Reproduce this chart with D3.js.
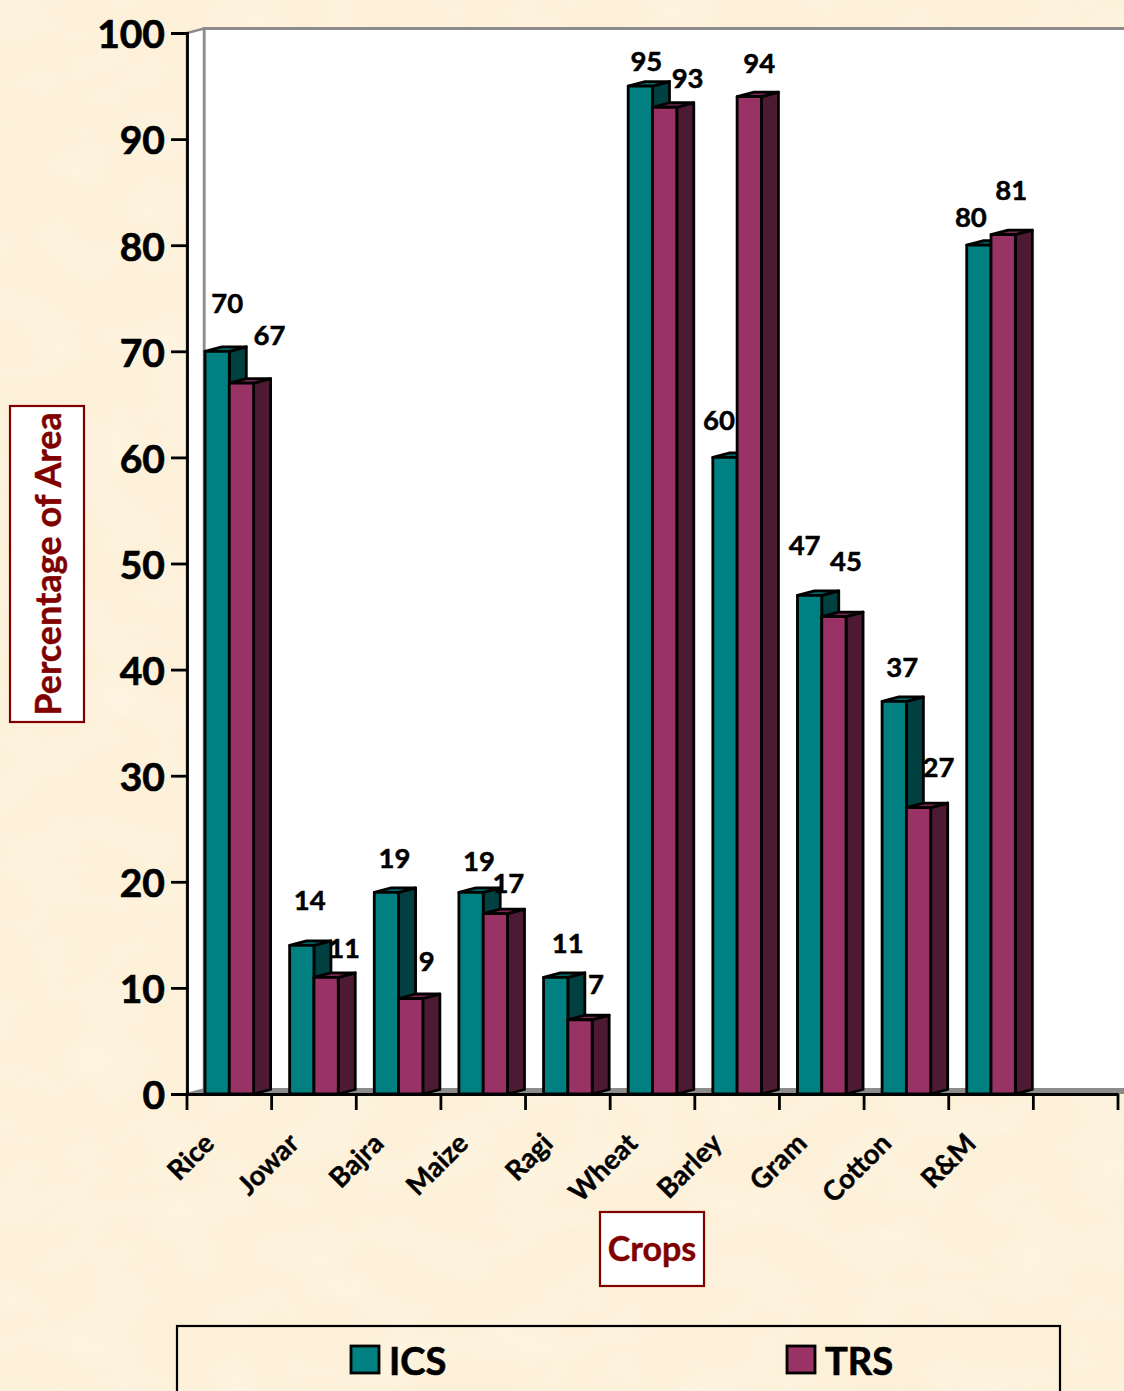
<!DOCTYPE html>
<html>
<head>
<meta charset="utf-8">
<script src="https://cdn.jsdelivr.net/npm/d3@7"></script>
<style>
  html, body { margin: 0; padding: 0; background: #fdf1d9; }
  svg { display: block; }
  text { font-family: Lato, "Open Sans", sans-serif; font-weight: 700; }
</style>
</head>
<body>
<div id="chart"></div>
<script>
const width = 1124;
const height = 1391;

// Chart data
const crops = ["Rice", "Jowar", "Bajra", "Maize", "Ragi", "Wheat", "Barley", "Gram", "Cotton", "R&M"];
const icsValues = [70, 14, 19, 19, 11, 95, 60, 47, 37, 80];
const trsValues = [67, 11, 9, 17, 7, 93, 94, 45, 27, 81];
const yTicks = [0, 10, 20, 30, 40, 50, 60, 70, 80, 90, 100];

// The labels were hand placed in the original, so they get their own nudges
const icsNudge = [[10, -48], [8, -45], [8, -34], [8, -31], [12, -34], [6, -25], [-6, -37], [-5, -50], [8, -34], [-8, -28]];
const trsNudge = [[28, -48], [18, -29], [16, -37], [13, -30], [16, -35], [23, -29], [10, -33], [12, -55], [20, -40], [8, -44]];

const left = 187, right = 1118, top0 = 33, bottom = 1094;
const depthX = 17, depthY = 4.5;
const barW = 24.3, barStart = 18;

const teal = { front: "#008080", top: "#006666", side: "#004040" };
const plum = { front: "#993366", top: "#7a2952", side: "#4d1a33" };
const wallGrey = "#8c8c8c";

// one empty slot after R&M, the axis runs on past the last bars
const x = d3.scaleBand().domain([...crops, ""]).range([left, right]);
const y = d3.scaleLinear().domain([0, 100]).range([bottom, top0]);

const svg = d3.select("#chart").append("svg")
  .attr("width", width)
  .attr("height", height);

// Paper texture behind everything
const filter = svg.append("defs").append("filter")
  .attr("id", "paper")
  .attr("x", 0).attr("y", 0).attr("width", "100%").attr("height", "100%");
filter.append("feTurbulence")
  .attr("type", "fractalNoise")
  .attr("baseFrequency", "0.014 0.022")
  .attr("numOctaves", 3)
  .attr("seed", 4);
filter.append("feColorMatrix")
  .attr("type", "matrix")
  .attr("values", "0 0 0 0 1  0 0 0 0 0.98  0 0 0 0 0.9  0.6 0 0 0 -0.2");

svg.append("rect").attr("width", width).attr("height", height).attr("fill", "#fdf0d8");
svg.append("rect").attr("width", width).attr("height", height).attr("filter", "url(#paper)");

// Walls and floor
const wallX = left + depthX;
const wallTop = top0 - depthY;
const wallBottom = bottom - depthY;

svg.append("rect")
  .attr("x", wallX).attr("y", wallTop)
  .attr("width", width - wallX + 4).attr("height", wallBottom - wallTop)
  .attr("fill", "#fff")
  .attr("stroke", wallGrey)
  .attr("stroke-width", 3);

svg.append("path")
  .attr("d", `M${left},${top0}L${wallX},${wallTop}V${wallBottom}L${left},${bottom}Z`)
  .attr("fill", "#fff")
  .attr("stroke", wallGrey)
  .attr("stroke-width", 2.5);

svg.append("path")
  .attr("d", `M${left},${bottom}L${wallX},${wallBottom}H${width + 2}V${bottom}Z`)
  .attr("fill", wallGrey)
  .attr("stroke", "none");

// Bars
function drawBars(values, colors, offset) {
  const g = svg.append("g")
    .attr("stroke", "#000")
    .attr("stroke-width", 2.8)
    .attr("stroke-linejoin", "round");

  const bar = g.selectAll("g")
    .data(values)
    .join("g")
    .attr("transform", (d, i) => `translate(${x(crops[i]) + offset},0)`);

  bar.append("path")
    .attr("fill", colors.side)
    .attr("d", d => `M${barW},${y(d)}l${depthX},${-depthY}V${bottom - depthY}L${barW},${bottom}Z`);

  bar.append("path")
    .attr("fill", colors.top)
    .attr("d", d => `M0,${y(d)}l${depthX},${-depthY}h${barW}l${-depthX},${depthY}Z`);

  bar.append("rect")
    .attr("y", d => y(d))
    .attr("width", barW)
    .attr("height", d => bottom - y(d))
    .attr("fill", colors.front);
}

drawBars(icsValues, teal, barStart);
drawBars(trsValues, plum, barStart + barW);

// Value labels
function drawLabels(values, nudges, offset) {
  svg.append("g").selectAll("text")
    .data(values)
    .join("text")
    .attr("x", (d, i) => x(crops[i]) + offset + barW / 2 + nudges[i][0])
    .attr("y", (d, i) => y(d) + nudges[i][1])
    .attr("dy", "0.35em")
    .attr("text-anchor", "middle")
    .attr("font-size", 27.5)
    .attr("fill", "#000")
    .attr("stroke", "#000")
    .attr("stroke-width", 0.5)
    .text(d => d);
}

drawLabels(icsValues, icsNudge, barStart);
drawLabels(trsValues, trsNudge, barStart + barW);

// Axes
const yAxis = svg.append("g")
  .attr("transform", `translate(${left},0)`)
  .call(d3.axisLeft(y).tickValues(yTicks).tickSize(16).tickPadding(6));
yAxis.selectAll("text")
  .attr("font-size", 39)
  .attr("fill", "#000")
  .attr("stroke", "#000")
  .attr("stroke-width", 0.7)
  .attr("dy", "0.38em")
  .style("font-family", null);

const xAxis = svg.append("g")
  .attr("transform", `translate(0,${bottom})`)
  .call(d3.axisBottom(x).tickValues([]).tickSize(0));

// band edges, not band centres, carry the ticks here
xAxis.selectAll(".edge")
  .data([...x.domain().map(c => x(c)), right])
  .join("line")
  .attr("class", "edge")
  .attr("x1", d => d).attr("x2", d => d)
  .attr("y1", 0).attr("y2", 16)
  .attr("stroke", "#000");

svg.selectAll(".domain, .tick line, .edge").attr("stroke-width", 2.8).attr("stroke", "#000");

svg.append("g").selectAll("text")
  .data(crops)
  .join("text")
  .attr("text-anchor", "end")
  .attr("font-size", 27.5)
  .attr("fill", "#000")
  .attr("stroke", "#000")
  .attr("stroke-width", 0.4)
  .attr("transform", d => `translate(${x(d) + 29},${bottom + 51}) rotate(-45)`)
  .text(d => d);

// Axis titles in their boxes
const titleRed = "#800000";

svg.append("rect")
  .attr("x", 10).attr("y", 406).attr("width", 74).attr("height", 316)
  .attr("fill", "#fff").attr("stroke", titleRed).attr("stroke-width", 2.2);
svg.append("text")
  .attr("transform", "translate(48,564) rotate(-90)")
  .attr("text-anchor", "middle")
  .attr("dy", "0.35em")
  .attr("font-size", 36)
  .attr("fill", titleRed)
  .attr("stroke", titleRed)
  .attr("stroke-width", 0.4)
  .text("Percentage of Area");

svg.append("rect")
  .attr("x", 600).attr("y", 1212).attr("width", 104).attr("height", 74)
  .attr("fill", "#fff").attr("stroke", titleRed).attr("stroke-width", 2.2);
svg.append("text")
  .attr("x", 652).attr("y", 1249)
  .attr("text-anchor", "middle")
  .attr("dy", "0.35em")
  .attr("font-size", 34)
  .attr("fill", titleRed)
  .attr("stroke", titleRed)
  .attr("stroke-width", 0.4)
  .text("Crops");

// Legend, cut off by the bottom of the picture
svg.append("rect")
  .attr("x", 177).attr("y", 1326).attr("width", 883).attr("height", 100)
  .attr("fill", "none").attr("stroke", "#000").attr("stroke-width", 2.2);

const legendItems = [
  { name: "ICS", color: teal.front, at: 351 },
  { name: "TRS", color: plum.front, at: 787 }
];

const legend = svg.selectAll(".legend")
  .data(legendItems)
  .join("g")
  .attr("class", "legend")
  .attr("transform", d => `translate(${d.at},1346)`);

legend.append("rect")
  .attr("width", 28).attr("height", 27)
  .attr("fill", d => d.color)
  .attr("stroke", "#000")
  .attr("stroke-width", 2.8);

legend.append("text")
  .attr("x", 38).attr("y", 16)
  .attr("dy", "0.35em")
  .attr("font-size", 38)
  .attr("fill", "#000")
  .attr("stroke", "#000")
  .attr("stroke-width", 0.7)
  .text(d => d.name);
</script>
</body>
</html>
